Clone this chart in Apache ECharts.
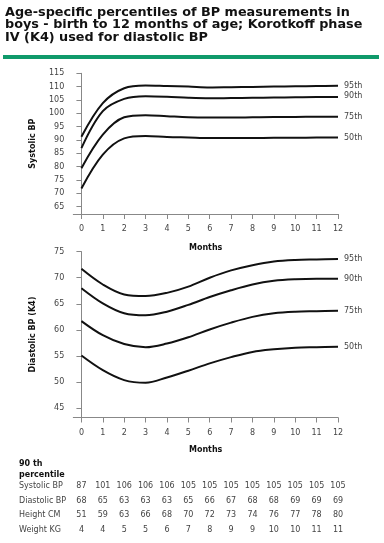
<!DOCTYPE html>
<html><head><meta charset="utf-8">
<script src="https://cdn.jsdelivr.net/npm/echarts@6/dist/echarts.min.js"></script>
<style>html,body{margin:0;padding:0;background:#fff}#c{width:384px;height:543px}</style>
</head><body><div id="c"></div>
<script>
const months = [0,1,2,3,4,5,6,7,8,9,10,11,12];
const percentileNames = ['95th','90th','75th','50th'];
const sys95 = [91.2,103.8,109.4,110.4,110.2,110.0,109.7,109.8,109.9,110.0,110.1,110.2,110.3];
const sys90 = [86.9,100.8,105.4,106.4,106.2,105.8,105.6,105.7,105.8,105.9,106.0,106.1,106.1];
const sys75 = [79.4,92.0,98.5,99.3,98.9,98.5,98.4,98.4,98.5,98.6,98.6,98.7,98.7];
const sys50 = [71.8,84.5,90.6,91.5,91.1,90.9,90.7,90.7,90.7,90.8,90.8,90.9,90.9];
const dia95 = [71.7,68.7,66.8,66.5,67.1,68.3,70.0,71.4,72.4,73.1,73.4,73.5,73.6];
const dia90 = [68.0,65.1,63.2,62.8,63.5,64.8,66.3,67.6,68.7,69.4,69.7,69.8,69.8];
const dia75 = [61.7,59.0,57.3,56.7,57.4,58.6,60.1,61.4,62.5,63.2,63.5,63.6,63.7];
const dia50 = [55.1,52.3,50.4,49.9,50.9,52.2,53.6,54.8,55.8,56.3,56.6,56.7,56.8];
const sysTicks = [65,70,75,80,85,90,95,100,105,110,115];
const diaTicks = [45,50,55,60,65,70,75];
const tableTitle = ['90 th','percentile'];
const rowLabels = ['Systolic BP','Diastolic BP','Height CM','Weight KG'];
const rowSys = [87,101,106,106,106,105,105,105,105,105,105,105,105];
const rowDia = [68,65,63,63,63,65,66,67,68,68,69,69,69];
const rowHeight = [51,59,63,66,68,70,72,73,74,76,77,78,80];
const rowWeight = [4,4,5,5,6,7,8,9,9,10,10,11,11];

const FONT = 'DejaVu Sans';
const chart = echarts.init(document.getElementById('c'), null, {renderer:'canvas'});

function xAxisCfg(gi, gap){
  return {type:'value', gridIndex:gi, min:-0.38, max:12,
    name:'Months', nameLocation:'middle', nameGap:gap,
    nameTextStyle:{fontFamily:FONT, fontSize:8, fontWeight:'bold', color:'#111'},
    axisLine:{show:true, lineStyle:{color:'#888', width:1}},
    axisTick:{show:true, length:5, lineStyle:{color:'#888'}, customValues:months},
    axisLabel:{fontFamily:FONT, fontSize:8, color:'#444', margin:11, customValues:months},
    splitLine:{show:false}};
}
function yAxisCfg(gi, min, max, ticks, name){
  return {type:'value', gridIndex:gi, min:min, max:max,
    name:name, nameLocation:'middle', nameGap:36,
    nameTextStyle:{fontFamily:FONT, fontSize:8, fontWeight:'bold', color:'#111'},
    axisLine:{show:true, lineStyle:{color:'#888', width:1}},
    axisTick:{show:true, length:5, lineStyle:{color:'#888'}, customValues:ticks},
    axisLabel:{fontFamily:FONT, fontSize:8, color:'#444', margin:9, customValues:ticks},
    splitLine:{show:false}};
}
function line(gi, vals, name, off){
  return {type:'line', xAxisIndex:gi, yAxisIndex:gi, name:name,
    data: months.map((m,i)=>[m, vals[i]]), smooth:0.35,
    showSymbol:false, symbol:'none', lineStyle:{color:'#111', width:2}, silent:true,
    endLabel:{show:true, formatter:name, fontFamily:FONT, fontSize:8, color:'#444', distance:6, offset:off||[0,0]}};
}

chart.setOption({
  animation:false,
  backgroundColor:'#fff',
  title:{text:'Age-specific percentiles of BP measurements in\nboys - birth to 12 months of age; Korotkoff phase\nIV (K4) used for diastolic BP',
    left:5, top:6.5, padding:0,
    textStyle:{fontFamily:FONT, fontSize:12.8, fontWeight:'bold', color:'#111', lineHeight:12.4}},
  grid:[
    {left:73.3, top:73.3, width:264.7, height:140.7},
    {left:73.3, top:251.6, width:264.7, height:165.9}
  ],
  xAxis:[xAxisCfg(0,30), xAxisCfg(1,28)],
  yAxis:[yAxisCfg(0,62.2,115,sysTicks,'Systolic BP'), yAxisCfg(1,43.24,75,diaTicks,'Diastolic BP (K4)')],
  series:[
    line(0,sys95,percentileNames[0],[0,0]), line(0,sys90,percentileNames[1],[0,-1.2]),
    line(0,sys75,percentileNames[2]), line(0,sys50,percentileNames[3]),
    line(1,dia95,percentileNames[0]), line(1,dia90,percentileNames[1]),
    line(1,dia75,percentileNames[2]), line(1,dia50,percentileNames[3])
  ]
});

const graphics = [
  {type:'rect', shape:{x:3, y:55, width:376, height:4}, style:{fill:'#0f9a6b'}, silent:true},
  {type:'text', left:19, top:460, style:{text:tableTitle[0], font:'bold 8px "DejaVu Sans"', fill:'#111'}},
  {type:'text', left:19, top:470.5, style:{text:tableTitle[1], font:'bold 8px "DejaVu Sans"', fill:'#111'}}
];
const rows = [rowSys, rowDia, rowHeight, rowWeight];
const rowY = [486, 500.7, 515.2, 529.8];
rows.forEach((r, ri)=>{
  graphics.push({type:'text', x:19, y:rowY[ri], style:{text:rowLabels[ri], font:'8px "DejaVu Sans"', fill:'#444', verticalAlign:'middle'}});
  r.forEach((v, i)=>{
    const px = chart.convertToPixel({xAxisIndex:1}, months[i]);
    graphics.push({type:'text', x:px, y:rowY[ri], style:{text:String(v), font:'8px "DejaVu Sans"', fill:'#444', align:'center', verticalAlign:'middle'}});
  });
});
chart.setOption({graphic:graphics});
</script></body></html>
